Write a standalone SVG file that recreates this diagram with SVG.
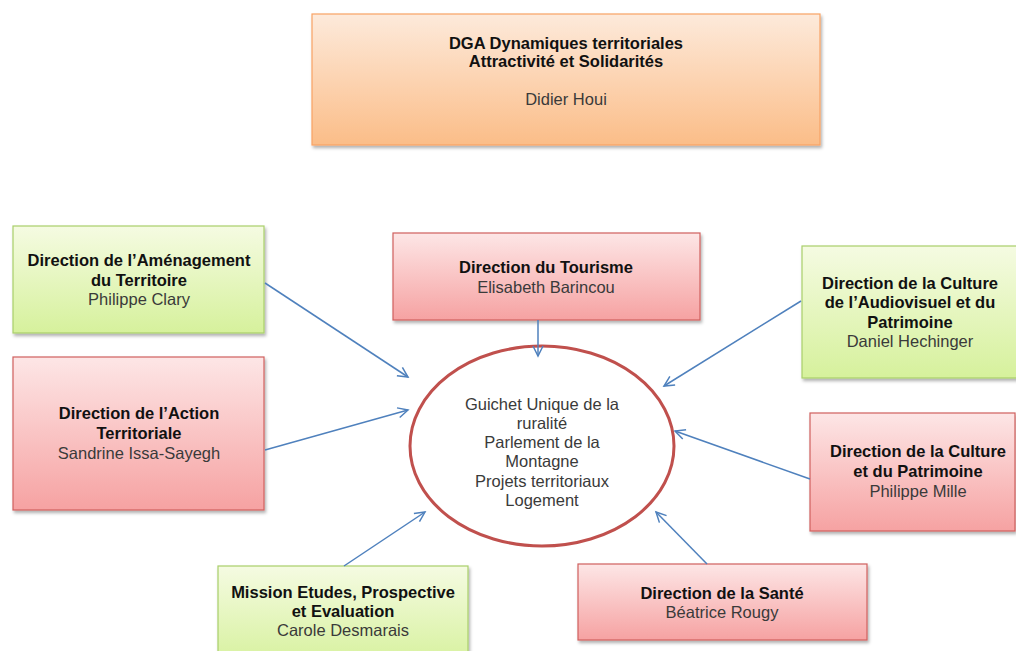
<svg xmlns="http://www.w3.org/2000/svg" width="1016" height="651" viewBox="0 0 1016 651">
<defs>
<linearGradient id="gOrange" x1="0" y1="0" x2="0" y2="1"><stop offset="0" stop-color="#fdeadb"/><stop offset="1" stop-color="#fbbd88"/></linearGradient>
<linearGradient id="gGreen" x1="0" y1="0" x2="0" y2="1"><stop offset="0" stop-color="#f5fbe2"/><stop offset="1" stop-color="#d6f19c"/></linearGradient>
<linearGradient id="gRed" x1="0" y1="0" x2="0" y2="1"><stop offset="0" stop-color="#fde6e6"/><stop offset="1" stop-color="#f6a2a2"/></linearGradient>
<filter id="sh" x="-5%" y="-5%" width="110%" height="115%"><feDropShadow dx="1.5" dy="2.5" stdDeviation="1.5" flood-color="#000" flood-opacity="0.3"/></filter>
<marker id="arr" markerWidth="14" markerHeight="14" refX="11" refY="6" orient="auto" markerUnits="userSpaceOnUse"><path d="M1,1 L11,6 L1,11" fill="none" stroke="#4f81bd" stroke-width="1.5"/></marker>
<style>
.orange{fill:url(#gOrange);stroke:#f9a264;stroke-width:1.2;filter:url(#sh)}
.green{fill:url(#gGreen);stroke:#a9cf6a;stroke-width:1.2;filter:url(#sh)}
.red{fill:url(#gRed);stroke:#d0605e;stroke-width:1.2;filter:url(#sh)}
text{font-family:"Liberation Sans",Arial,sans-serif;font-size:16.5px;text-anchor:middle}
.b{font-weight:bold;fill:#111}
.n{fill:#3a3a3a}
.conn line{stroke:#4f81bd;stroke-width:1.5;marker-end:url(#arr)}
</style>
</defs>
<rect width="1016" height="651" fill="#fff"/>
<g id="dga"><rect class="orange" x="312" y="14" width="508" height="131"/>
<text class="b" x="566" y="49">DGA Dynamiques territoriales</text>
<text class="b" x="566" y="67">Attractivité et Solidarités</text>
<text class="n" x="566" y="105">Didier Houi</text></g>
<g id="amenagement"><rect class="green" x="13" y="226" width="251" height="107"/>
<text class="b" x="139" y="266">Direction de l’Aménagement</text>
<text class="b" x="139" y="286">du Territoire</text>
<text class="n" x="139" y="305">Philippe Clary</text></g>
<g id="tourisme"><rect class="red" x="393" y="233" width="307" height="87"/>
<text class="b" x="546" y="273">Direction du Tourisme</text>
<text class="n" x="546" y="293">Elisabeth Barincou</text></g>
<g id="culture-audiovisuel"><rect class="green" x="802" y="246" width="220" height="132"/>
<text class="b" x="910" y="289">Direction de la Culture</text>
<text class="b" x="910" y="308">de l’Audiovisuel et du</text>
<text class="b" x="910" y="328">Patrimoine</text>
<text class="n" x="910" y="347">Daniel Hechinger</text></g>
<g id="action"><rect class="red" x="13" y="357" width="251" height="153"/>
<text class="b" x="139" y="419">Direction de l’Action</text>
<text class="b" x="139" y="439">Territoriale</text>
<text class="n" x="139" y="459">Sandrine Issa-Sayegh</text></g>
<g id="culture-patrimoine"><rect class="red" x="810" y="413" width="205" height="118"/>
<text class="b" x="918" y="457">Direction de la Culture</text>
<text class="b" x="918" y="477">et du Patrimoine</text>
<text class="n" x="918" y="497">Philippe Mille</text></g>
<g id="mission"><rect class="green" x="218" y="566" width="250" height="100"/>
<text class="b" x="343" y="598">Mission Etudes, Prospective</text>
<text class="b" x="343" y="617">et Evaluation</text>
<text class="n" x="343" y="636">Carole Desmarais</text></g>
<g id="sante"><rect class="red" x="578" y="564" width="289" height="76"/>
<text class="b" x="722" y="599">Direction de la Santé</text>
<text class="n" x="722" y="618">Béatrice Rougy</text></g>
<g id="guichet"><ellipse cx="542" cy="446" rx="132" ry="100" fill="#fff" stroke="#c0504d" stroke-width="3"/>
<text class="n" x="542" y="410">Guichet Unique de la</text>
<text class="n" x="542" y="429">ruralité</text>
<text class="n" x="542" y="448">Parlement de la</text>
<text class="n" x="542" y="467">Montagne</text>
<text class="n" x="542" y="487">Projets territoriaux</text>
<text class="n" x="542" y="506">Logement</text></g>
<g id="connectors" class="conn">
<line x1="265" y1="283" x2="408" y2="377"/>
<line x1="538" y1="320" x2="538" y2="356"/>
<line x1="801" y1="301" x2="664" y2="386"/>
<line x1="265" y1="450" x2="408" y2="410"/>
<line x1="810" y1="479" x2="675" y2="431"/>
<line x1="344" y1="566" x2="425" y2="512"/>
<line x1="707" y1="564" x2="656" y2="512"/>
</g>
</svg>
